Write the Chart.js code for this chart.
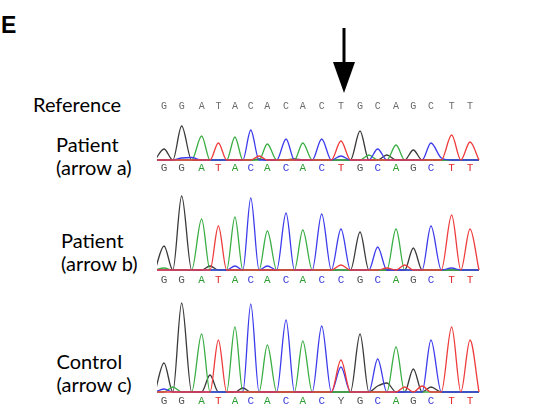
<!DOCTYPE html>
<html>
<head>
<meta charset="utf-8">
<script src="https://cdn.jsdelivr.net/npm/chart.js@4.4.1/dist/chart.umd.min.js"></script>
<style>
  html, body { margin: 0; padding: 0; background: #fff; }
  #page { position: relative; width: 537px; height: 419px; overflow: hidden; background: #fff; }
  .lbl { position: absolute; font-family: Lato, "Open Sans", sans-serif; font-size: 20px; line-height: 23px; color: #000; white-space: nowrap; }
  #panelE { position: absolute; left: 1px; top: 14px; font-family: "Liberation Sans", Arial, sans-serif; font-weight: bold; font-size: 23px; line-height: 23px; }
  canvas { position: absolute; }
  svg { position: absolute; left: 0; top: 0; }
</style>
</head>
<body>
<div id="page">
  <div id="panelE">E</div>
  <svg width="537" height="100">
    <line x1="344" y1="28" x2="344" y2="64" stroke="#000" stroke-width="3"/>
    <polygon points="333,62 355,62 344,93" fill="#000"/>
  </svg>
  <div class="lbl" style="left:33px; top:92.5px;">Reference</div>
  <div class="lbl" style="left:56px; top:132.5px;">Patient<br>(arrow a)</div>
  <div class="lbl" style="left:61px; top:229px;">Patient<br>(arrow b)</div>
  <div class="lbl" style="left:56.5px; top:350px;">Control<br>(arrow c)</div>
  <canvas id="cA" width="324" height="77" style="left:157px; top:98px;"></canvas>
  <canvas id="cB" width="324" height="99" style="left:157px; top:190px;"></canvas>
  <canvas id="cC" width="324" height="111" style="left:157px; top:299px;"></canvas>
</div>
<script>
// ---- base-call positions (in base units along the trace) ----
const positions = [0, 0.98, 2.09, 3.02, 3.94, 4.82, 5.74, 6.78, 7.71, 8.76, 9.83, 10.89, 11.87, 12.89, 13.85, 14.83, 15.98, 17.0];

// ---- sequences ----
const refSeq = ['G','G','A','T','A','C','A','C','A','C','T','G','C','A','G','C','T','T'];
const seqA   = ['G','G','A','T','A','C','A','C','A','C','T','G','C','A','G','C','T','T'];
const seqB   = ['G','G','A','T','A','C','A','C','A','C','C','G','C','A','G','C','T','T'];
const seqC   = ['G','G','A','T','A','C','A','C','A','C','Y','G','C','A','G','C','T','T'];

// ---- trace a (Patient, arrow a): signal at each base position / between bases ----
const aG = [11, 34, 0, 0, 0, 0, 0, 0, 0, 0, 0, 29, 0, 0, 10, 0, 0, 0];
const aA = [0, 0, 24, 0, 23, 0, 16, 0, 17, 0, 0, 0, 0, 15, 0, 0, 0, 0];
const aT = [0, 0, 0, 17, 0, 0, 0, 0, 0, 0, 19, 0, 0, 0, 0, 0, 25, 18];
const aC = [0, 2, 0, 0, 0, 30, 0, 21, 0, 21, 4, 0, 11, 0, 0, 17, 0, 0];
const aGmid = [0, 0, 0, 0, 0, 1, 0, 1, 0, 0, 0, 0, 5, 0, 0, 0, 0];
const aAmid = [0, 0, 0, 0, 0, 0, 0, 0, 0, 0, 0, 5, 0, 0, 0, 0, 0];
const aTmid = [0, 0, 0, 0, 0, 4, 0, 0, 0, 0, 0, 0, 0, 0, 0, 0, 0];
const aCmid = [0, 2.5, 0, 0, 0, 0, 0, 0, 0, 0, 0, 0, 0, 0, 0, 2, 0];

// ---- trace b (Patient, arrow b) ----
const bG = [24, 74, 0, 0, 0, 0, 0, 0, 0, 0, 0, 38, 0, 0, 22, 0, 0, 0];
const bA = [2, 0, 51, 0, 53, 0, 39, 0, 40, 0, 0, 0, 0, 41, 0, 0, 0, 0];
const bT = [0, 0, 0, 44, 0, 0, 0, 0, 0, 0, 5, 0, 0, 0, 0, 0, 55, 41];
const bC = [0, 0, 0, 0, 4, 72, 4, 57, 0, 56, 41, 0, 23, 0, 0, 44, 2, 0];
const bGmid = [0, 0, 4, 0, 0, 0, 0, 0, 0, 0, 0, 0, 0, 0, 0, 0, 0];
const bAmid = [0, 0, 0, 0, 0, 0, 0, 0, 0, 0, 0, 0, 0, 0, 0, 0, 0];
const bTmid = [0, 0, 0, 0, 0, 0, 0, 0, 0, 0, 0, 0, 2, 5, 0, 0, 0];
const bCmid = [0, 0, 0, 0, 0, 0, 0, 0, 0, 0, 0, 0, 0, 0, 0, 0, 0];

// ---- trace c (Control, arrow c) ----
const cG = [29, 89, 0, 0, 0, 0, 0, 0, 0, 0, 0, 58, 6, 0, 23, 5, 0, 0];
const cA = [0, 0, 58, 0, 65, 0, 47, 0, 51, 0, 0, 0, 0, 45, 0, 0, 0, 0];
const cT = [0, 0, 0, 52, 0, 0, 0, 0, 0, 0, 32, 0, 0, 0, 0, 0, 65, 52];
const cC = [3, 0, 0, 0, 0, 88, 0, 72, 0, 66, 25, 0, 33, 0, 0, 52, 0, 0];
const cGmid = [0, 0, 17, 0, 4, 0, 0, 0, 0, 0, 0, 0, 9, 0, 0, 0, 0];
const cAmid = [5, 0, 0, 0, 0, 0, 0, 0, 0, 0, 0, 0, 0, 0, 0, 0, 0];
const cTmid = [0, 0, 0, 0, 0, 0, 0, 0, 0, 0, 0, 0, 0, 5, 6, 0, 0];
const cCmid = [0, 0, 0, 0, 0, 0, 0, 0, 0, 0, 0, 0, 0, 0, 0, 0, 0];

const traceColor = { G: '#3a3a3a', A: '#3aae44', C: '#3b3bec', T: '#ee3c3c' };
const letterColor = { G: '#555555', A: '#2f9f35', C: '#3a3ad8', T: '#e32a2a', Y: '#555555' };

function buildPoints(peaks, mids) {
  const pts = [{ x: positions[0] - 0.5, y: 0 }];
  for (let i = 0; i < positions.length; i++) {
    pts.push({ x: positions[i], y: peaks[i] });
    if (i < positions.length - 1) {
      pts.push({ x: (positions[i] + positions[i + 1]) / 2, y: mids[i] });
    }
  }
  pts.push({ x: positions[positions.length - 1] + 0.5, y: 0 });
  return pts;
}

function ds(ch, peaks, mids) {
  return {
    data: buildPoints(peaks, mids),
    borderColor: traceColor[ch],
    borderWidth: 1.3,
    pointRadius: 0,
    fill: false,
    cubicInterpolationMode: 'monotone'
  };
}

function xAxis(seq, position, pad, size, colorFn) {
  return {
    type: 'linear',
    position: position,
    min: -0.39,
    max: 17.61,
    grid: { display: false, drawTicks: false },
    border: { display: false },
    afterBuildTicks: axis => { axis.ticks = positions.map(v => ({ value: v })); },
    ticks: {
      autoSkip: false,
      maxRotation: 0,
      padding: pad,
      font: { family: '"Liberation Mono", "Courier New", monospace', size: size, lineHeight: 1 },
      color: colorFn,
      callback: (v, i) => seq[i]
    }
  };
}

function makeChart(id, traces, seq, yMax, padB, withRef) {
  const scales = {
    x: xAxis(seq, 'bottom', padB, 11, ctx => letterColor[seq[ctx.index]] || '#555'),
    y: { display: false, min: -1, max: yMax }
  };
  if (withRef) {
    scales.x2 = xAxis(refSeq, 'top', 3, 10, () => '#6a6a6a');
  }
  new Chart(document.getElementById(id), {
    type: 'line',
    data: {
      datasets: [
        ds('T', traces.T, traces.Tm),
        ds('C', traces.C, traces.Cm),
        ds('A', traces.A, traces.Am),
        ds('G', traces.G, traces.Gm)
      ]
    },
    options: {
      responsive: false,
      animation: false,
      devicePixelRatio: 1,
      layout: { padding: 0 },
      plugins: { legend: { display: false }, tooltip: { enabled: false } },
      scales: scales
    }
  });
}

makeChart('cA', { G: aG, A: aA, T: aT, C: aC, Gm: aGmid, Am: aAmid, Tm: aTmid, Cm: aCmid }, seqA, 46, 1.5, true);
makeChart('cB', { G: bG, A: bA, T: bT, C: bC, Gm: bGmid, Am: bAmid, Tm: bTmid, Cm: bCmid }, seqB, 80, 3.5, false);
makeChart('cC', { G: cG, A: cA, T: cT, C: cC, Gm: cGmid, Am: cAmid, Tm: cTmid, Cm: cCmid }, seqC, 93, 3, false);
</script>
</body>
</html>
